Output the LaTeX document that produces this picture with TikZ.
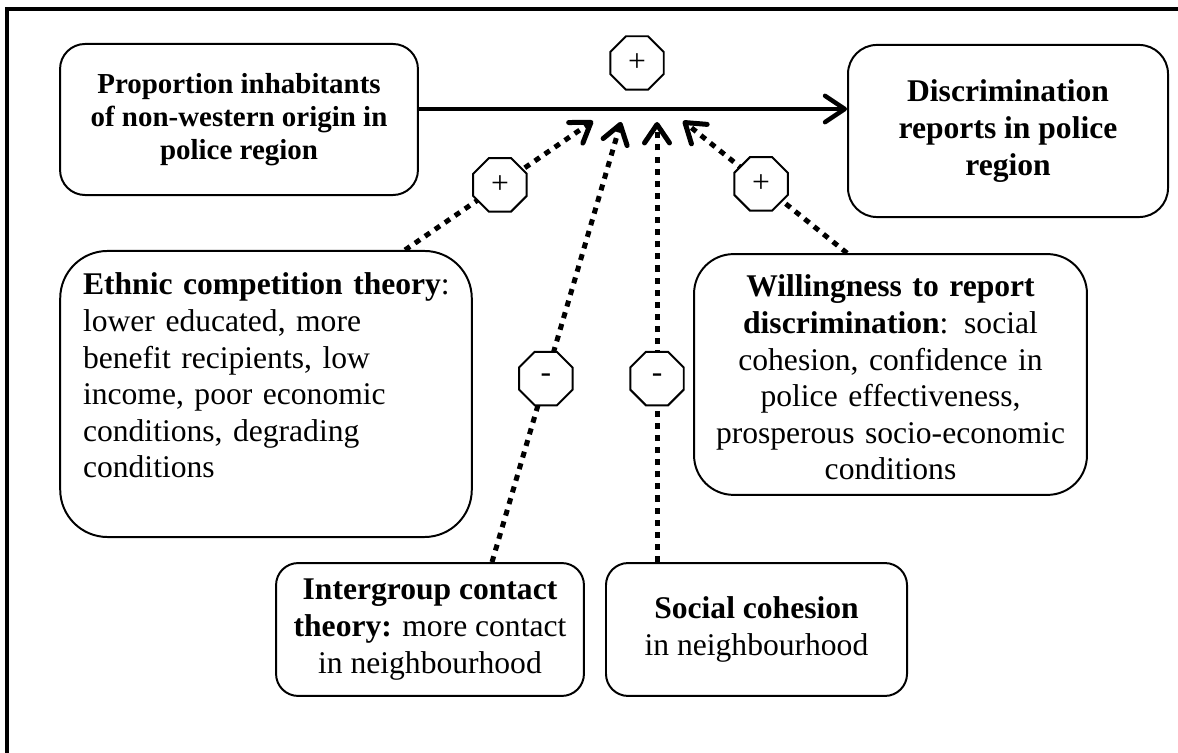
\documentclass[tikz,border=0pt]{standalone}
\usepackage{fontspec}
\setmainfont{Liberation Serif}
\usetikzlibrary{shapes.geometric, arrows.meta, calc}

\begin{document}
\begin{tikzpicture}[
      x=0.38pt, y=-0.38pt,
      box/.style={rectangle, draw, line width=0.75pt, align=center,
                  inner sep=3pt, font=\fontsize{12}{13.9}\selectfont},
      octa/.style={regular polygon, regular polygon sides=8, draw, solid, fill=white,
                   line width=0.75pt, minimum size=22pt, inner sep=0pt,
                   font=\fontsize{12}{14}\selectfont},
      dots/.style={line width=1.9pt, dash pattern=on 2.3pt off 2.3pt,
                   -{Straight Barb[length=7pt, width=9.5pt, round]}},
      arr/.style={line width=1.7pt, -{Straight Barb[length=7.5pt, width=10pt, round]}}
    ]
    \useasboundingbox (0,0) rectangle (1178,753);
    \draw[line width=1.3pt] (7,800) |- (1200,9);

    \node[box, minimum width=136pt, minimum height=57.4pt, rounded corners=9.5pt,
          font=\bfseries\fontsize{11}{12.6}\selectfont] (prop) at (239,119.5)
          {Proportion inhabitants\\of non-western origin in\\police region};
    \node[box, minimum width=121.6pt, minimum height=65.4pt, rounded corners=11pt,
          font=\bfseries\fontsize{12}{13.9}\selectfont] (disc) at (1008,131)
          {Discrimination\\reports in police\\region};

    \node[box, align=left, text width=139pt, inner xsep=8.7pt, inner ysep=0pt,
          text height=16.7pt, text depth=92pt, rounded corners=18pt] (ethnic) at (266,394)
          {\mbox{\textbf{Ethnic competition theory}:}\\lower educated, more\\benefit recipients, low\\income, poor economic\\conditions, degrading\\conditions};
    \node[box, text width=141pt, inner xsep=4.15pt, inner ysep=0pt,
          text height=16.3pt, text depth=75.2pt, rounded corners=15pt] (will) at (890.5,374.5)
          {\textbf{Willingness to report}\\\textbf{discrimination}: social\\cohesion, confidence in\\police effectiveness,\\prosperous socio-economic\\conditions};

    \node[box, minimum width=117pt, minimum height=50.5pt, rounded corners=8.4pt] (inter) at (430,629.5)
          {\textbf{Intergroup contact}\\\textbf{theory:} more contact\\in neighbourhood};
    \node[box, minimum width=114.4pt, minimum height=50.5pt, rounded corners=8.4pt] (soc) at (756.5,629.5)
          {\textbf{Social cohesion}\\in neighbourhood};

    \node[octa] (mplus) at (637,63) {+};

    \coordinate (t1) at (593,121);
    \coordinate (t2) at (621,122);
    \coordinate (t3) at (657,122);
    \coordinate (t4) at (683,121);

    \draw[arr] ($(prop.east)+(0,-10.5)$) -- ($(disc.west)+(0,-22)$);
    \draw[dots] ($(ethnic.north)+(139,0)$) -- node[octa, pos=0.505] (eplus) {+} (t1);
    \draw[dots] ($(inter.north)+(62,0)$) -- node[octa, pos=0.417] (iminus) {-} (t2);
    \draw[dots] ($(soc.north)+(-99.5,0)$) -- node[octa, pos=0.417] (sminus) {-} (t3);
    \draw[dots] ($(will.north)+(-43.5,0)$) -- node[octa, pos=0.524] (wplus) {+} (t4);

  \end{tikzpicture}
\end{document}
